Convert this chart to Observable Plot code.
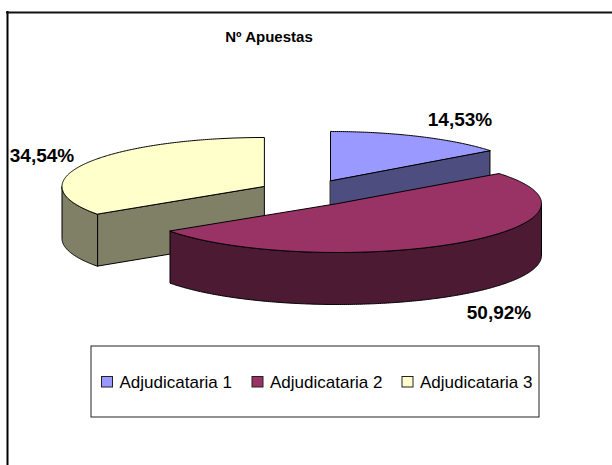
<!DOCTYPE html>
<html><head><meta charset="utf-8">
<script src="https://cdn.jsdelivr.net/npm/d3@7"></script>
<script src="https://cdn.jsdelivr.net/npm/@observablehq/plot@0.6"></script>
<style>html,body{margin:0;padding:0;background:#fff}svg{display:block}</style>
</head><body><div id="chart"></div>
<script>
const categories = ["Adjudicataria 1", "Adjudicataria 2", "Adjudicataria 3"];
const shares = [14.53, 50.92, 34.54];
const shareLabels = ["14,53%", "50,92%", "34,54%"];
const chartTitle = "Nº Apuestas";
const topColors = ["#9999FF", "#993366", "#FFFFCC"];
const sideColors = ["#4D4D80", "#4D1A33", "#808066"];

// Layout of the 3D pie (separate from the data)
const W = 612, H = 465;
const radiiX = [201.5, 203.5, 202];
const Ry = 49, depth = 52;
const apexes = [[330, 180], [337.5, 203], [263.5, 186]];
const labelPos = [[459.5, 119], [498.5, 312], [41.5, 155]];

// Angles come from the shares, clockwise from 12 o'clock
const total = d3.sum(shares);
let acc = 0;
const slices = shares.map((v, i) => {
  const a0 = acc / total * 2 * Math.PI;
  acc += v;
  return {i, a0, a1: acc / total * 2 * Math.PI, c: apexes[i], rx: radiiX[i]};
});
const pt = (s, a, dy = 0) => ({x: s.c[0] + s.rx * Math.sin(a), y: s.c[1] - Ry * Math.cos(a) + dy});
const arc = (s, a0, a1, dy = 0) => {
  const n = Math.max(2, Math.ceil(Math.abs(a1 - a0) / 0.01));
  return d3.range(n + 1).map(k => pt(s, a0 + (a1 - a0) * k / n, dy));
};
const poly = (pts, key, fill) => pts.map(p => ({...p, key, fill}));

function sliceFaces(s) {
  const apex = {x: s.c[0], y: s.c[1]};
  const faces = [];
  const side = sideColors[s.i], top = topColors[s.i];
  const quad = (a, b, tag) => faces.push(poly([a, b, {x: b.x, y: b.y + depth}, {x: a.x, y: a.y + depth}], `${s.i}${tag}`, side));
  // radial cut walls
  if (s.i === 0) quad(apex, pt(s, s.a1), "w");
  if (s.i === 2) quad(apex, pt(s, s.a0), "w");
  // outer curved wall: only the part facing the viewer (between 90° and 270°)
  const lo = Math.max(s.a0, Math.PI / 2), hi = Math.min(s.a1, 3 * Math.PI / 2);
  if (hi > lo) {
    const up = arc(s, lo, hi), dn = arc(s, hi, lo, depth);
    faces.push(poly([...up, ...dn], `${s.i}o`, side));
  }
  faces.push(poly([apex, ...arc(s, s.a0, s.a1)], `${s.i}t`, top));
  return faces.flat();
}

// Draw order: back slices first, magenta in front
const order = [2, 0, 1];
const pieRows = order.flatMap(i => sliceFaces(slices[i]));
const keys = [...new Set(pieRows.map(d => d.key))];

const legendX = [101.5, 252, 402];
const legendBoxes = categories.map((name, i) => ({name, i, x: legendX[i]}));

const plot = Plot.plot({
  width: W, height: H, margin: 0,
  x: {domain: [0, W], range: [0, W], axis: null},
  y: {domain: [0, H], range: [0, H], axis: null},
  style: {background: "#fff"},
  marks: [
    Plot.ruleX([7], {y1: 11, y2: H, stroke: "#000", strokeWidth: 2}),
    Plot.ruleY([12], {x1: 6, x2: W, stroke: "#111", strokeWidth: 2}),
    ...keys.map(k => Plot.line(pieRows.filter(d => d.key === k), {
      x: "x", y: "y", fill: d => d.fill, stroke: "#000", strokeWidth: 1, curve: "linear-closed", strokeLinejoin: "round"
    })),
    Plot.text(shareLabels, {
      x: (d, i) => labelPos[i][0], y: (d, i) => labelPos[i][1], text: d => d,
      fontFamily: "Liberation Sans", fontWeight: "bold", fontSize: 19, fill: "#000"
    }),
    Plot.text([chartTitle], {x: [268.5], y: [37], text: d => d,
      fontFamily: "Liberation Sans", fontWeight: "bold", fontSize: 15, fill: "#000"}),
    Plot.rect([0], {x1: 91, x2: 539, y1: 346, y2: 417, fill: "#fff", stroke: "#222", strokeWidth: 1}),
    Plot.rect(legendBoxes, {x1: d => d.x, x2: d => d.x + 11, y1: 376.5, y2: 387,
      fill: d => topColors[d.i], stroke: "#222", strokeWidth: 1}),
    Plot.text(legendBoxes, {x: d => d.x + 17.5, y: 382, text: "name", textAnchor: "start",
      fontFamily: "Liberation Sans", fontSize: 17, fill: "#000"})
  ]
});
document.getElementById("chart").append(plot);
</script></body></html>
